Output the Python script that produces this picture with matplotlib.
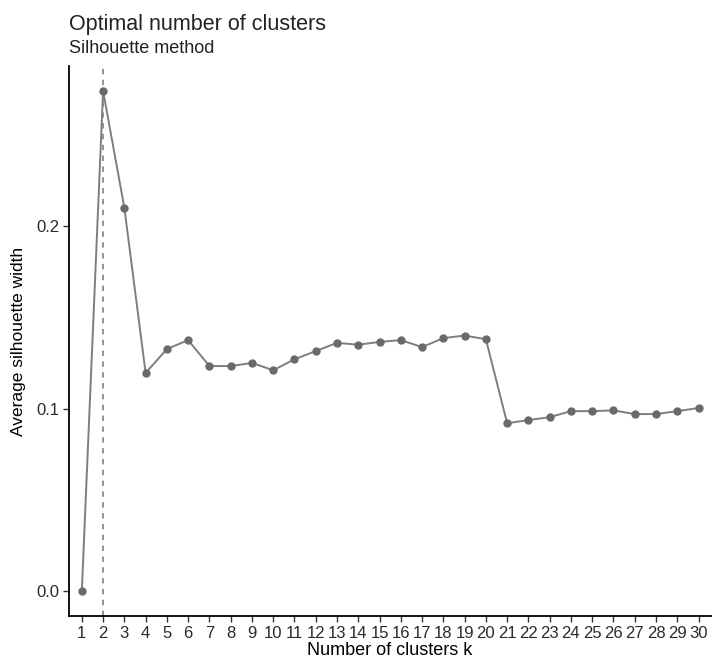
import matplotlib.pyplot as plt
import numpy as np

plt.rcParams["font.family"] = ["Liberation Sans", "DejaVu Sans"]

k = list(range(1, 31))
silhouette = [0.0, 0.274, 0.210, 0.1195, 0.1326, 0.1375, 0.1233, 0.1233, 0.125, 0.121,
              0.127, 0.1315, 0.136, 0.135, 0.1365, 0.1375, 0.1337, 0.1386, 0.140, 0.138,
              0.092, 0.0937, 0.0953, 0.0986, 0.0986, 0.099, 0.097, 0.097, 0.0986, 0.1003]
best_k = 2

fig = plt.figure(figsize=(7.12, 6.59), dpi=100)
ax = fig.add_axes([0.097, 0.065, 0.902, 0.835])

ax.axvline(best_k, color="#8a8a8a", linestyle=(0, (3, 3)), linewidth=1.3, zorder=1)
ax.plot(k, silhouette, color="#7e7e7e", linewidth=1.4, zorder=2)
ax.plot(k, silhouette, "o", color="#6a6a6a", markersize=5, zorder=3)

ax.set_xlim(1 - 0.6, 30 + 0.6)
ymax = max(silhouette)
pad = 0.05 * ymax
ax.set_ylim(-pad, ymax + pad)
ax.set_xticks(k)
ax.set_xticklabels([str(i) for i in k])
ax.set_yticks([0.0, 0.1, 0.2])
ax.set_yticklabels(["0.0", "0.1", "0.2"])

for s in ["top", "right"]:
    ax.spines[s].set_visible(False)
for s in ["left", "bottom"]:
    ax.spines[s].set_linewidth(1.3)
    ax.spines[s].set_color("black")
ax.tick_params(axis="both", length=4, width=1, color="#333333", labelsize=12,
               labelcolor="#2a2a2a", pad=3)

ax.set_xlabel("Number of clusters k", fontsize=13, color="black", labelpad=1)
ax.set_ylabel("Average silhouette width", fontsize=12.5, color="black", labelpad=7)

fig.text(0.097, 0.955, "Optimal number of clusters", fontsize=15.5, color="#222222",
         ha="left", va="baseline")
fig.text(0.097, 0.92, "Silhouette method", fontsize=13, color="#222222",
         ha="left", va="baseline")

plt.savefig("out.png", dpi=100)
